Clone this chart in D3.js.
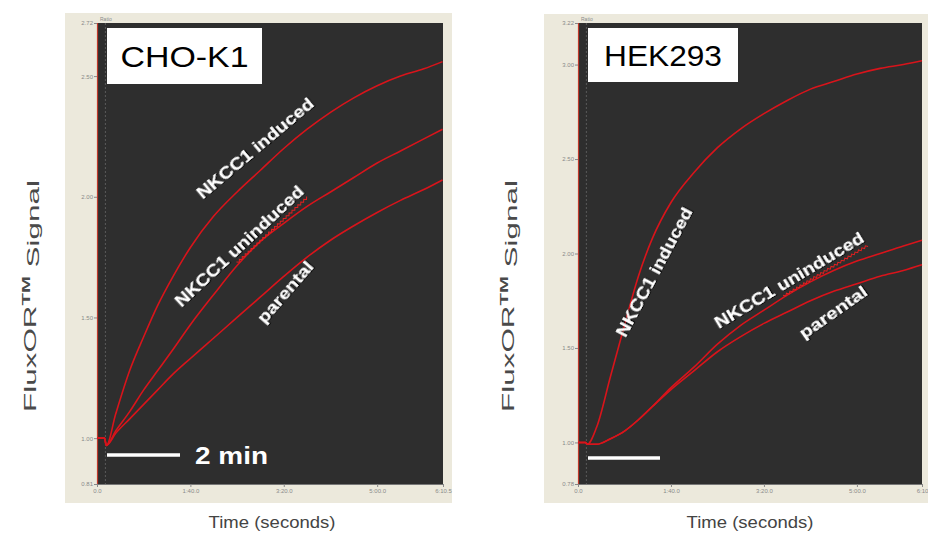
<!DOCTYPE html>
<html>
<head>
<meta charset="utf-8">
<script src="https://cdn.jsdelivr.net/npm/d3@7"></script>
<style>
  html, body { margin: 0; padding: 0; background: #ffffff; }
  svg { display: block; }
</style>
</head>
<body>
<svg id="chart" width="928" height="538"></svg>
<script>
// Sample times (seconds) shared by every trace
const timeSec = [0, 8, 10, 20, 35, 50, 65, 80, 100, 125, 150, 175, 200, 225, 250, 275, 300, 325, 350, 370];

// CHO-K1 traces (FluxOR ratio)
const choInduced   = [1.00, 1.00, 0.97, 1.10, 1.28, 1.42, 1.55, 1.66, 1.79, 1.92, 2.02, 2.11, 2.20, 2.28, 2.35, 2.41, 2.46, 2.50, 2.53, 2.56];
const choUninduced = [1.00, 1.00, 0.97, 1.03, 1.11, 1.20, 1.28, 1.36, 1.47, 1.595, 1.715, 1.815, 1.89, 1.96, 2.02, 2.08, 2.14, 2.19, 2.24, 2.28];
const choParental  = [1.00, 1.00, 0.97, 1.02, 1.08, 1.14, 1.20, 1.26, 1.33, 1.415, 1.50, 1.585, 1.67, 1.75, 1.82, 1.88, 1.935, 1.985, 2.03, 2.07];

// HEK293 traces (FluxOR ratio)
const hekInduced   = [1.00, 1.00, 0.99, 1.08, 1.35, 1.62, 1.88, 2.08, 2.27, 2.43, 2.56, 2.66, 2.74, 2.81, 2.87, 2.91, 2.95, 2.98, 3.00, 3.02];
const hekUninduced = [1.00, 1.00, 0.99, 0.99, 1.02, 1.06, 1.12, 1.19, 1.29, 1.40, 1.52, 1.62, 1.70, 1.78, 1.85, 1.91, 1.96, 2.00, 2.04, 2.07];
const hekParental  = [1.00, 1.00, 0.99, 0.99, 1.02, 1.06, 1.12, 1.19, 1.28, 1.38, 1.48, 1.56, 1.63, 1.69, 1.75, 1.80, 1.84, 1.88, 1.91, 1.94];

// Axis ticks and labels
const xTickValues   = [0, 100, 200, 300];
const xTickLabels   = ["0.0", "1:40.0", "3:20.0", "5:00.0"];
const choXEnd       = 370.5, choXEndLabel = "6:10.5";
const hekXEnd       = 370,   hekXEndLabel = "6:10";
const choYTicks     = [0.81, 1.00, 1.50, 2.00, 2.50, 2.72];
const hekYTicks     = [0.78, 1.00, 1.50, 2.00, 2.50, 3.00, 3.22];

const cellLines     = ["CHO-K1", "HEK293"];
const traceNames    = ["NKCC1 induced", "NKCC1 uninduced", "parental"];

const FONT = "Arial, 'Liberation Sans', sans-serif";
const svg = d3.select("#chart");

// stretch a text element horizontally (in its own frame) to a target length
function stretchTo(sel, target, baseTransform) {
  const w = sel.node().getBBox().width;
  sel.attr("transform", `${baseTransform} scale(${target / w},1)`);
}

const panels = [
  {
    name: cellLines[0],
    frame: { x0: 65, x1: 452, y0: 13, y1: 503 },
    plot:  { x0: 97, x1: 443, y0: 23, y1: 484 },
    xEnd: choXEnd, xEndLabel: choXEndLabel,
    yTicks: choYTicks,
    series: [choInduced, choUninduced, choParental],
    box: { x: 107, y: 28, w: 155, h: 56, textW: 128 },
    bar: { x1: 107, x2: 180, y: 455, text: "2 min" },
    titleX: 30, timeX: 272,
    labels: [
      { cx: 255, cy: 148, angle: -40, len: 147 },
      { cx: 239, cy: 246, angle: -43, len: 169, wavy: true },
      { cx: 285, cy: 292, angle: -49, len: 76 }
    ]
  },
  {
    name: cellLines[1],
    frame: { x0: 544, x1: 928, y0: 14, y1: 503 },
    plot:  { x0: 578, x1: 922, y0: 23, y1: 484 },
    xEnd: hekXEnd, xEndLabel: hekXEndLabel,
    yTicks: hekYTicks,
    series: [hekInduced, hekUninduced, hekParental],
    box: { x: 588, y: 28, w: 150, h: 54, textW: 118 },
    bar: { x1: 588, x2: 660, y: 458, text: null },
    titleX: 508, timeX: 750,
    labels: [
      { cx: 654, cy: 272, angle: -62, len: 144 },
      { cx: 789, cy: 280, angle: -31, len: 171, wavy: true },
      { cx: 833, cy: 312, angle: -35, len: 79 }
    ]
  }
];

const defs = svg.append("defs");
defs.append("filter").attr("id", "shadow")
  .append("feDropShadow")
  .attr("dx", 1).attr("dy", 1).attr("stdDeviation", 0.6)
  .attr("flood-color", "#000").attr("flood-opacity", 0.9);

panels.forEach(p => {
  const g = svg.append("g");

  // window frame and plot background
  g.append("rect")
    .attr("x", p.frame.x0).attr("y", p.frame.y0)
    .attr("width", p.frame.x1 - p.frame.x0).attr("height", p.frame.y1 - p.frame.y0)
    .attr("fill", "#ece9dc");
  g.append("rect")
    .attr("x", p.plot.x0).attr("y", p.plot.y0)
    .attr("width", p.plot.x1 - p.plot.x0).attr("height", p.plot.y1 - p.plot.y0)
    .attr("fill", "#2e2e2e");

  const x = d3.scaleLinear().domain([0, p.xEnd]).range([p.plot.x0, p.plot.x1]);
  const y = d3.scaleLinear().domain([p.yTicks[0], p.yTicks[p.yTicks.length - 1]])
    .range([p.plot.y1, p.plot.y0]);

  // compound-addition marker
  g.append("line")
    .attr("x1", x(9)).attr("x2", x(9))
    .attr("y1", p.plot.y0).attr("y2", p.plot.y1)
    .attr("stroke", "#5a5a5a").attr("stroke-width", 1)
    .attr("stroke-dasharray", "2,2");

  // y axis
  const yAxis = d3.axisLeft(y).tickValues(p.yTicks)
    .tickFormat(d3.format(".2f")).tickSize(3).tickPadding(1);
  const ya = g.append("g").attr("transform", `translate(${p.plot.x0},0)`).call(yAxis);
  ya.select(".domain").attr("stroke", "#c0392b").attr("stroke-width", 1.2);
  ya.selectAll(".tick line").attr("stroke", "#888");
  ya.selectAll(".tick text").attr("fill", "#8a8a8a")
    .style("font-family", FONT).style("font-size", "6px");

  // x axis
  const xVals = xTickValues.concat([p.xEnd]);
  const xLabs = xTickLabels.concat([p.xEndLabel]);
  const xAxis = d3.axisBottom(x).tickValues(xVals)
    .tickFormat((d, i) => xLabs[i]).tickSize(3).tickPadding(2);
  const xa = g.append("g").attr("transform", `translate(0,${p.plot.y1})`).call(xAxis);
  xa.select(".domain").attr("stroke", "#777");
  xa.selectAll(".tick line").attr("stroke", "#888");
  xa.selectAll(".tick text").attr("fill", "#8a8a8a")
    .style("font-family", FONT).style("font-size", "6px");

  // "Ratio" caption at the top of the y axis
  g.append("text").attr("x", p.plot.x0 + 3).attr("y", p.plot.y0 - 2)
    .attr("fill", "#8a8a8a").style("font-family", FONT).style("font-size", "5px")
    .text("Ratio");

  // traces
  const line = d3.line()
    .x((d, i) => x(timeSec[i]))
    .y(d => y(d))
    .curve(d3.curveMonotoneX);
  p.series.forEach(s => {
    g.append("path").datum(s)
      .attr("d", line)
      .attr("fill", "none")
      .attr("stroke", "#d8141b")
      .attr("stroke-width", 1.6);
  });

  // trace labels
  p.labels.forEach((l, i) => {
    const base = `translate(${l.cx},${l.cy}) rotate(${l.angle})`;
    const t = g.append("text")
      .attr("text-anchor", "middle")
      .attr("dy", "0.35em")
      .attr("fill", "#ffffff")
      .attr("filter", "url(#shadow)")
      .style("font-family", FONT)
      .style("font-weight", "bold")
      .style("font-size", "16px")
      .text(traceNames[i]);
    const full = t.node().getBBox().width;
    const sx = l.len / full;
    t.attr("transform", `${base} scale(${sx},1)`);
    if (l.wavy) {
      // spell-check squiggle under "uninduced"
      const tmp = g.append("text")
        .style("font-family", FONT)
        .style("font-weight", "bold").style("font-size", "16px").text("uninduced");
      const ww = tmp.node().getBBox().width;
      tmp.remove();
      const xs = (full / 2 - ww) * sx, xe = (full / 2) * sx, yy = 10;
      let d = `M${xs},${yy}`;
      let k = 0;
      for (let xx = xs + 2; xx <= xe; xx += 2, k++) d += `L${xx},${yy + (k % 2 ? 0 : 2)}`;
      g.append("path")
        .attr("transform", base)
        .attr("d", d).attr("fill", "none").attr("stroke", "#e02020").attr("stroke-width", 1);
    }
  });

  // cell-line tag
  g.append("rect")
    .attr("x", p.box.x).attr("y", p.box.y)
    .attr("width", p.box.w).attr("height", p.box.h)
    .attr("fill", "#ffffff");
  const tag = g.append("text")
    .attr("dy", "0.36em").attr("text-anchor", "middle")
    .attr("fill", "#000")
    .style("font-family", FONT)
    .style("font-size", "30px")
    .text(p.name);
  stretchTo(tag, p.box.textW, `translate(${p.box.x + p.box.w / 2},${p.box.y + p.box.h / 2})`);

  // time scale bar
  g.append("line")
    .attr("x1", p.bar.x1).attr("x2", p.bar.x2)
    .attr("y1", p.bar.y).attr("y2", p.bar.y)
    .attr("stroke", "#ffffff").attr("stroke-width", 3.5);
  if (p.bar.text) {
    const bt = g.append("text")
      .attr("fill", "#ffffff")
      .style("font-family", FONT)
      .style("font-weight", "bold").style("font-size", "24px")
      .text(p.bar.text);
    stretchTo(bt, 73, `translate(${p.bar.x2 + 15},${p.bar.y + 9})`);
  }

  // axis titles
  const yt = g.append("text")
    .attr("text-anchor", "middle").attr("dy", "0.35em")
    .attr("fill", "#4a4a4a")
    .style("font-family", FONT)
    .style("font-size", "17px");
  yt.append("tspan").text("FluxOR");
  yt.append("tspan").attr("dy", "-0.5em").style("font-size", "11px").style("font-weight", "bold").text("TM");
  yt.append("tspan").attr("dy", "0.5em").text(" Signal");
  stretchTo(yt, 232, `translate(${p.titleX},296) rotate(-90)`);

  const xt = g.append("text")
    .attr("dy", "0.35em").attr("text-anchor", "middle")
    .attr("fill", "#444")
    .style("font-family", FONT)
    .style("font-size", "17px")
    .text("Time (seconds)");
  stretchTo(xt, 127, `translate(${p.timeX},522)`);
});
</script>
</body>
</html>
